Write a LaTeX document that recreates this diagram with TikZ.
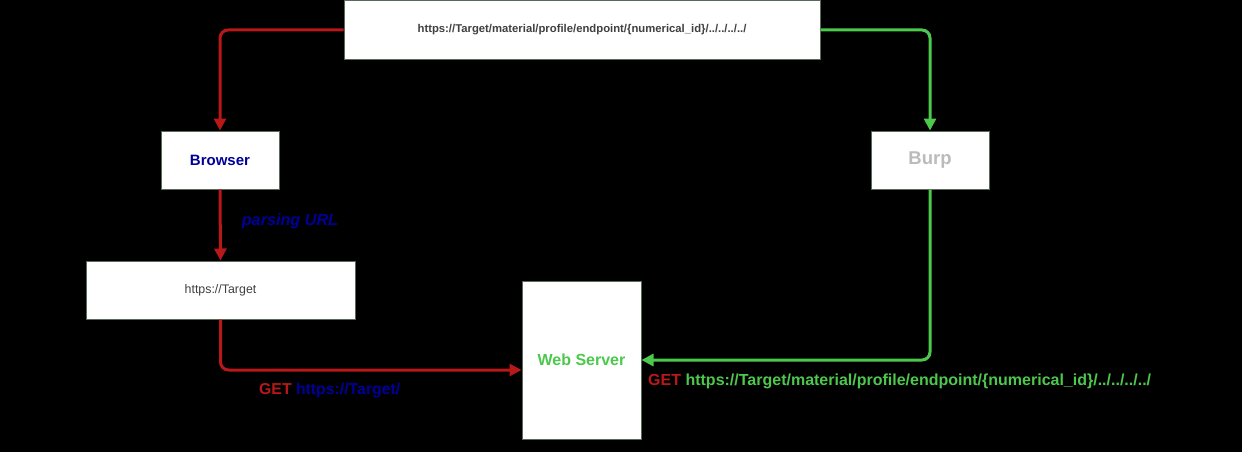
\documentclass[tikz,border=0pt]{standalone}
\usepackage{fontspec}
\setmainfont{Liberation Sans}
\usetikzlibrary{arrows.meta}
\definecolor{myred}{HTML}{B81818}
\definecolor{mygreen}{HTML}{4CC84C}
\definecolor{myblue}{HTML}{000099}
\definecolor{mygray}{HTML}{BBBBBB}
\definecolor{boxline}{HTML}{5A6A5A}
\begin{document}
\begin{tikzpicture}[x=1pt,y=-1pt,
  box/.style={draw=boxline,fill=white,line width=1pt,inner sep=0pt},
  redarr/.style={draw=myred,line width=3pt,rounded corners=8pt,-{Triangle[length=12pt,width=12pt]}},
  greenarr/.style={draw=mygreen,line width=3pt,rounded corners=8pt,-{Triangle[length=12pt,width=12pt]}}]
\fill[black] (0,0) rectangle (1242,452);
\useasboundingbox (0,0) rectangle (1242,452);
\node[box,minimum width=476pt,minimum height=59pt,font=\fontsize{11.3}{13}\selectfont\bfseries,text=black!75] (top) at (582,30) {https://Target/material/profile/endpoint/\{numerical\_id\}/../../../../};
\node[box,minimum width=118pt,minimum height=58pt,font=\fontsize{15}{17}\selectfont\bfseries,text=myblue] (browser) at (220,160) {Browser};
\node[box,minimum width=118pt,minimum height=58pt,font=\fontsize{18.5}{20}\selectfont\bfseries,text=mygray] (burp) at (930,160) {Burp};
\node[box,minimum width=269pt,minimum height=58pt,font=\fontsize{12.4}{14}\selectfont,text=black!75] (target) at (220.5,290) {https://Target};
\node[box,minimum width=119pt,minimum height=158pt,font=\fontsize{16}{18}\selectfont\bfseries,text=mygreen] (web) at (581.5,360) {Web Server};
\coordinate (rc1) at (220,30);
\coordinate (gc1) at (930,30);
\draw[redarr] (top.west) -- (rc1) -- (browser.north);
\draw[redarr] (browser.south) -- (target.north);
\draw[redarr] (target.south) |- (web.west |- 0,370);
\draw[greenarr] (top.east) -- (gc1) -- (burp.north);
\draw[greenarr] (burp.south) |- (web.east |- 0,360);
\node[font=\fontsize{16.2}{18}\selectfont\bfseries\itshape,text=myblue] (parse) at (290,221) {parsing URL};
\node[font=\fontsize{15.8}{18}\selectfont\bfseries,anchor=west,inner sep=0pt] (get1) at (259,390) {\textcolor{myred}{GET} \textcolor{myblue}{https://Target/}};
\node[font=\fontsize{16}{18}\selectfont\bfseries,anchor=west,inner sep=0pt] (get2) at (648,381) {\textcolor{myred}{GET} \textcolor{mygreen}{https://Target/material/profile/endpoint/\{numerical\_id\}/../../../../}};
\end{tikzpicture}
\end{document}
